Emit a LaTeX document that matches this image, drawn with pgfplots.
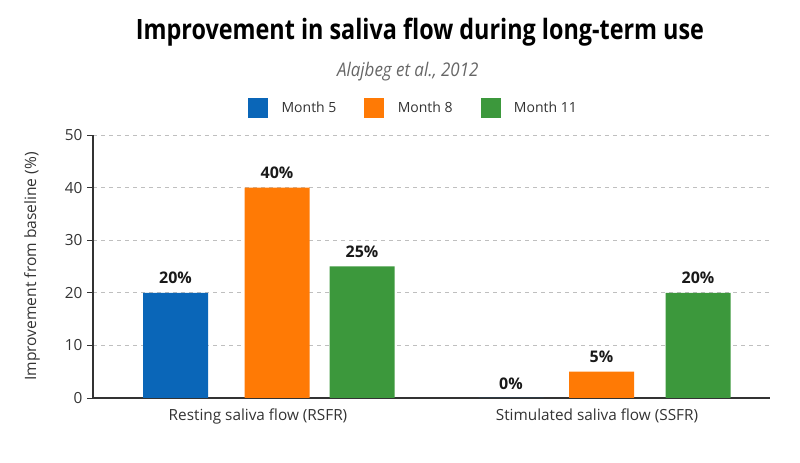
\documentclass[border=0pt]{standalone}
\usepackage{pgfplots}
\pgfplotsset{compat=1.18}
\usepackage{fontspec}
\setmainfont{Open Sans}
\newfontfamily\titlefont[FakeStretch=0.835]{Open Sans}
\newfontfamily\subfont[FakeStretch=0.9]{Open Sans}
\definecolor{c1}{HTML}{0A66B8}
\definecolor{c2}{HTML}{FF7A05}
\definecolor{c3}{HTML}{3C983C}
\definecolor{txt}{HTML}{333333}
\begin{document}
\begin{tikzpicture}[x=1pt,y=1pt]
\path (0,0) rectangle (600,347.25);
\begin{axis}[
  at={(69.75pt,48.75pt)}, anchor=south west,
  scale only axis, width=507.75pt, height=197.25pt,
  xmin=93, xmax=770, ymin=0, ymax=50,
  ybar, bar width=65, bar shift=0pt,
  axis x line*=bottom, axis y line*=left,
  axis line style={txt, line width=0.8pt},
  ytick={0,10,...,50},
  xtick={258,597},
  xticklabels={Resting saliva flow (RSFR), Stimulated saliva flow (SSFR)},
  x tick style={draw=none},
  y tick style={txt, line width=0.6pt},
  tick align=outside, major tick length=4.5pt,
  ymajorgrids, grid style={dashed, black!25, line width=0.5pt},
  tick label style={font=\fontsize{11.5}{13}\selectfont, text=txt},
  /pgf/number format/assume math mode=true,
  ylabel={Improvement from baseline (\%)},
  ylabel style={at={(axis description cs:-0.090,0.5)}, anchor=center, font=\fontsize{11.7}{13}\selectfont, text=txt},
  nodes near coords={\pgfmathprintnumber{\pgfplotspointmeta}\%},
  nodes near coords style={font=\bfseries\fontsize{12}{14}\selectfont, text=black!90, yshift=3pt, /pgf/number format/assume math mode=true},
  title={Improvement in saliva flow during long-term use},
  title style={at={(axis description cs:0.483,1.361)}, anchor=center, font=\titlefont\bfseries\fontsize{21}{25}\selectfont, text=black},
  legend style={at={(axis description cs:0.474,1.103)}, anchor=center, draw=none,
    font=\fontsize{10.5}{13}\selectfont, text=txt,
    /tikz/every odd column/.append style={column sep=8pt},
    /tikz/every even column/.append style={column sep=19pt}},
  legend columns=3,
  legend image code/.code={\path[#1, draw=none] (0pt,-7.5pt) rectangle (15pt,7.5pt);},
  clip=false,
]
\addplot[fill=c1, draw=none] coordinates {(175.5,20) (511,0)};
\addplot[fill=c2, draw=none] coordinates {(277,40) (601.5,5)};
\addplot[fill=c3, draw=none] coordinates {(362,25) (698,20)};
\legend{Month 5, Month 8, Month 11}
\node[font=\subfont\itshape\fontsize{14.1}{16}\selectfont, text=black!60] at (axis description cs:0.465,1.240) {Alajbeg et al., 2012};
\end{axis}
\end{tikzpicture}
\end{document}
